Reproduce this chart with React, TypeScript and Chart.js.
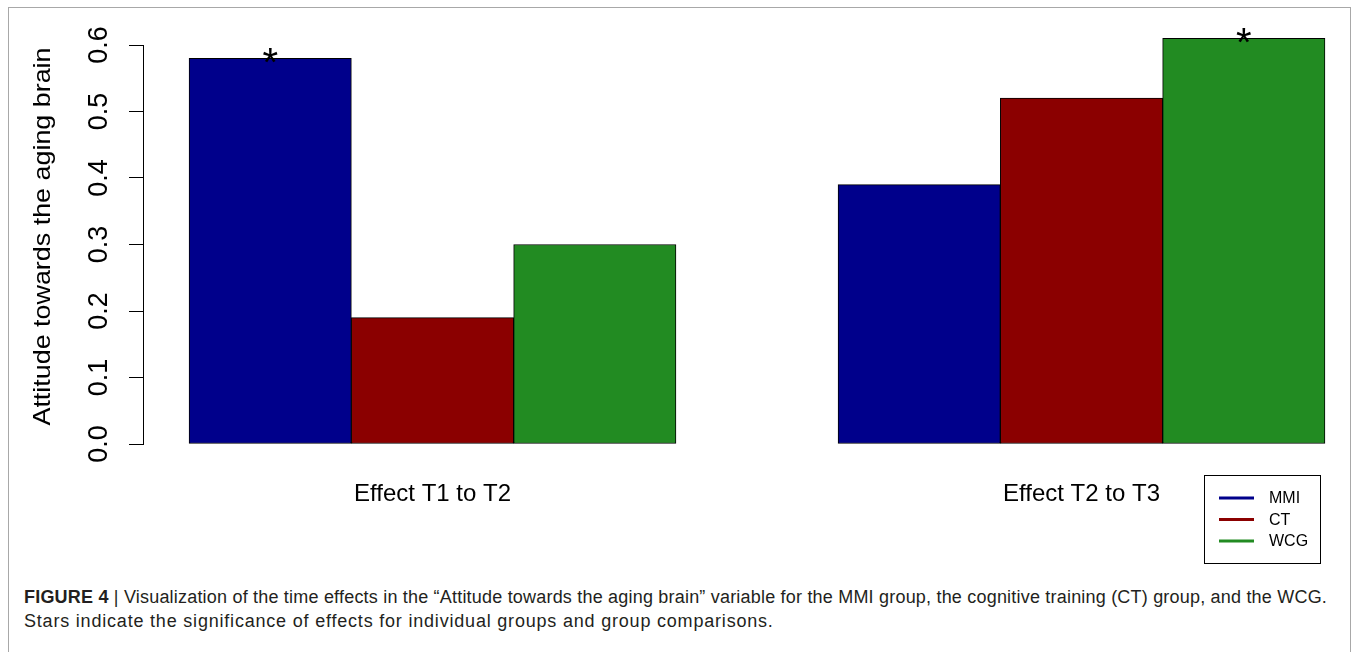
import React, { useEffect, useRef } from "react";
import { Chart, registerables } from "chart.js";

Chart.register(...registerables);

const categories = ["Effect T1 to T2", "Effect T2 to T3"];
const categoryPositions = [1, 2];
const seriesNames = ["MMI", "CT", "WCG"];
const mmiValues = [0.58, 0.39];
const ctValues = [0.19, 0.52];
const wcgValues = [0.3, 0.61];
const mmiStars = ["*", ""];
const ctStars = ["", ""];
const wcgStars = ["", "*"];
const yTickValues = [0, 0.1, 0.2, 0.3, 0.4, 0.5, 0.6];
const yTickLabels = ["0.0", "0.1", "0.2", "0.3", "0.4", "0.5", "0.6"];
const yTitle = "Attitude towards the aging brain";
const seriesColors = ["#00008B", "#8B0000", "#228B22"];

const FONT = '"Liberation Sans", Arial, Helvetica, sans-serif';

const overlayPlugin = {
  id: "overlay",
  afterDraw(chart: any) {
    const ctx = chart.ctx;
    const yScale = chart.scales.y;
    ctx.save();
    ctx.fillStyle = "#000";
    // y tick labels (rotated, R style)
    ctx.font = `24px ${FONT}`;
    ctx.textAlign = "center";
    ctx.textBaseline = "middle";
    yTickValues.forEach((v, i) => {
      const py = yScale.getPixelForValue(v);
      ctx.save();
      ctx.translate(100, py);
      ctx.rotate(-Math.PI / 2);
      ctx.scale(1.12, 1.12);
      ctx.fillText(yTickLabels[i], 0, 0);
      ctx.restore();
    });
    // y title
    ctx.save();
    ctx.translate(43, (yScale.top + yScale.bottom) / 2 - 8);
    ctx.rotate(-Math.PI / 2);
    ctx.scale(1.12, 1.0);
    ctx.font = `24px ${FONT}`;
    ctx.fillText(yTitle, 0, 0);
    ctx.restore();
    // stars
    const starSets = [mmiStars, ctStars, wcgStars];
    ctx.font = `40px ${FONT}`;
    ctx.textBaseline = "alphabetic";
    starSets.forEach((stars, di) => {
      const meta = chart.getDatasetMeta(di);
      stars.forEach((s, i) => {
        if (!s) return;
        const bar = meta.data[i];
        ctx.fillText(s, bar.x, bar.y + 18);
      });
    });
    // legend
    ctx.lineWidth = 1;
    ctx.strokeStyle = "#000";
    ctx.strokeRect(1204.5, 475.5, 116, 88);
    ctx.font = `16px ${FONT}`;
    ctx.textAlign = "left";
    ctx.textBaseline = "middle";
    seriesNames.forEach((name, i) => {
      const y = 498 + i * 21.5;
      ctx.strokeStyle = seriesColors[i];
      ctx.lineWidth = 3;
      ctx.beginPath();
      ctx.moveTo(1219, y);
      ctx.lineTo(1254, y);
      ctx.stroke();
      ctx.fillStyle = "#000";
      ctx.fillText(name, 1269, y + 1);
    });
    ctx.restore();
  },
};

export default function App() {
  const ref = useRef<HTMLCanvasElement | null>(null);
  useEffect(() => {
    if (!ref.current) return;
    const valueSets = [mmiValues, ctValues, wcgValues];
    const chart = new Chart(ref.current, {
      type: "bar",
      data: {
        datasets: seriesNames.map((name, di) => ({
          label: name,
          data: categoryPositions.map((x, i) => ({ x, y: valueSets[di][i] })),
          backgroundColor: seriesColors[di],
          borderColor: "#000",
          borderWidth: 1,
          borderSkipped: false,
          barThickness: 162.3,
          clip: false as any,
        })),
      },
      options: {
        animation: false,
        responsive: false,
        events: [],
        layout: { padding: { left: 0, top: 45, right: 16, bottom: 0 } },
        plugins: { legend: { display: false }, tooltip: { enabled: false } },
        scales: {
          x: {
            type: "linear",
            offset: false,
            min: 0.5539,
            max: 2.3983,
            grid: { display: false, drawTicks: false, offset: false },
            border: { display: false },
            afterBuildTicks: (scale: any) => {
              scale.ticks = categoryPositions.map((v) => ({ value: v }));
            },
            afterFit: (scale: any) => {
              scale.height = 136;
            },
            ticks: {
              padding: 36,
              color: "#000",
              font: { family: FONT, size: 24 },
              maxRotation: 0,
              autoSkip: false,
              callback: (_v: any, i: number) => categories[i],
            },
          },
          y: {
            type: "linear",
            min: 0,
            max: 0.6,
            afterBuildTicks: (scale: any) => {
              scale.ticks = yTickValues.map((v) => ({ value: v }));
            },
            afterFit: (scale: any) => {
              scale.width = 143;
            },
            grid: {
              drawOnChartArea: false,
              drawTicks: true,
              tickLength: 14,
              color: "#000",
              lineWidth: 1,
            },
            border: { display: true, color: "#000", width: 1 },
            ticks: { display: false },
          },
        },
      },
      plugins: [overlayPlugin],
    } as any);
    return () => chart.destroy();
  }, []);

  const captionStyle: React.CSSProperties = {
    position: "absolute",
    left: 24,
    fontFamily: '"Liberation Sans Narrow", "Liberation Sans", Arial, sans-serif',
    fontSize: 18,
    lineHeight: "24px",
    color: "#231f20",
    whiteSpace: "nowrap",
  };

  return (
    <div style={{ position: "absolute", left: 0, top: 0, width: 1356, height: 652, overflow: "hidden", background: "#fff" }}>
      <div
        style={{
          position: "absolute",
          left: 8,
          top: 7,
          width: 1343,
          height: 700,
          border: "1px solid #a8a8a8",
          boxSizing: "border-box",
        }}
      />
      <canvas ref={ref} width={1356} height={580} style={{ position: "absolute", left: 0, top: 0 }} />
      <div style={{ ...captionStyle, top: 585, letterSpacing: "0.2px" }}>
        <b>FIGURE 4</b> | Visualization of the time effects in the “Attitude towards the aging brain” variable for the MMI
        group, the cognitive training (CT) group, and the WCG.
      </div>
      <div style={{ ...captionStyle, top: 609, letterSpacing: "0.8px" }}>
        Stars indicate the significance of effects for individual groups and group comparisons.
      </div>
    </div>
  );
}
